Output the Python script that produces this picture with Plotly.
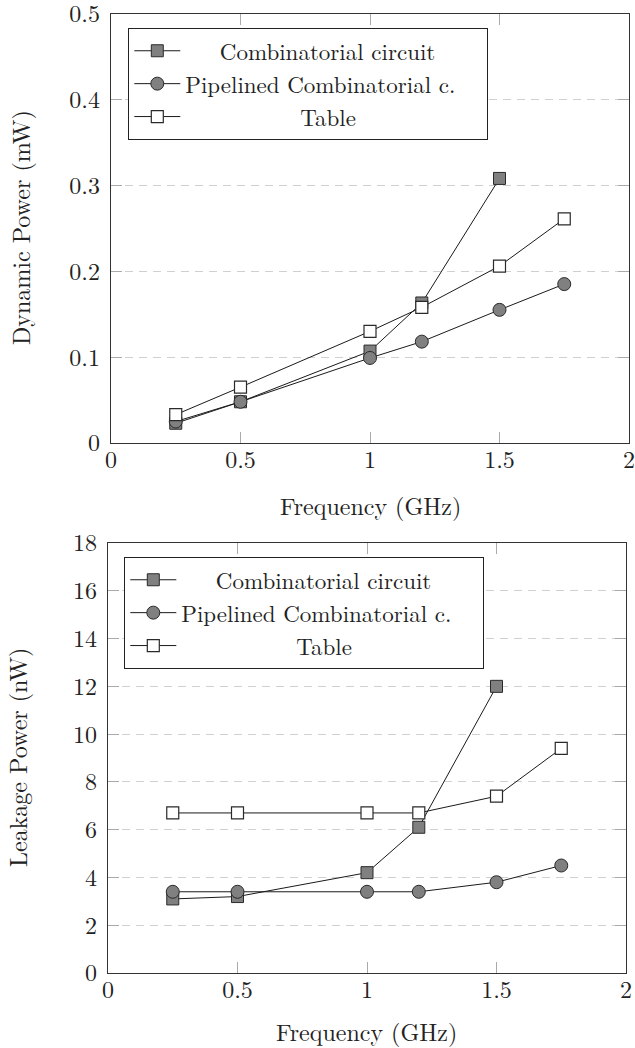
import plotly.graph_objects as go

# ---------------- data ----------------
freq_comb = [0.25, 0.5, 1.0, 1.2, 1.5]
freq_all = [0.25, 0.5, 1.0, 1.2, 1.5, 1.75]

dyn_comb = [0.023, 0.048, 0.107, 0.163, 0.308]
dyn_pipe = [0.025, 0.048, 0.099, 0.118, 0.155, 0.185]
dyn_table = [0.033, 0.065, 0.130, 0.158, 0.206, 0.261]

leak_comb = [3.1, 3.2, 4.2, 6.1, 12.0]
leak_pipe = [3.4, 3.4, 3.4, 3.4, 3.8, 4.5]
leak_table = [6.7, 6.7, 6.7, 6.7, 7.4, 9.4]

series_names = ["Combinatorial circuit", "Pipelined Combinatorial c.", "Table"]
x_ticks = [0, 0.5, 1, 1.5, 2]
x_tick_text = ["0", "0.5", "1", "1.5", "2"]
dyn_ticks = [0, 0.1, 0.2, 0.3, 0.4, 0.5]
dyn_tick_text = ["0", "0.1", "0.2", "0.3", "0.4", "0.5"]
leak_ticks = [0, 2, 4, 6, 8, 10, 12, 14, 16, 18]
leak_tick_text = [str(v) for v in leak_ticks]

# ---------------- styling ----------------
W, H = 635, 1048
FONT = "Latin Modern Roman, Liberation Serif, serif"
FS = 24
NB = "\u00a0"

def pad(name, left, right):
    return NB * left + name + NB * right

legend_labels = [pad(series_names[0], 3, 4), pad(series_names[1], 0, 2), pad(series_names[2], 10, 10)]

styles = [
    dict(symbol="square", size=12, color="#808080", line=dict(color="#2a2a2a", width=1)),
    dict(symbol="circle", size=13, color="#808080", line=dict(color="#2a2a2a", width=1)),
    dict(symbol="square", size=12, color="#ffffff", line=dict(color="#2a2a2a", width=1.2)),
]

fig = go.Figure()

def add_panel(xs_list, ys_list, xa, ya, legend):
    for i, (xs, ys) in enumerate(zip(xs_list, ys_list)):
        fig.add_trace(go.Scatter(
            x=xs, y=ys, mode="lines+markers", name=legend_labels[i],
            xaxis=xa, yaxis=ya, legend=legend,
            line=dict(color="#1a1a1a", width=1),
            marker=styles[i],
        ))

add_panel([freq_comb, freq_all, freq_all], [dyn_comb, dyn_pipe, dyn_table], "x", "y", "legend")
add_panel([freq_comb, freq_all, freq_all], [leak_comb, leak_pipe, leak_table], "x2", "y2", "legend2")

tfont = dict(family=FONT, size=FS, color="#222")
common_x = dict(range=[0, 2], tickvals=x_ticks, ticktext=x_tick_text, showgrid=False, zeroline=False,
                showline=True, linecolor="#333", linewidth=1.3, mirror="ticks", ticks="inside",
                ticklen=11, tickcolor="#aaaaaa", tickwidth=1, tickfont=tfont, ticklabelstandoff=-5,
                ticklabeloverflow="allow", automargin=False)
common_y = dict(showgrid=True, gridcolor="#d0d0d0", griddash="8px,6px", gridwidth=1, zeroline=False,
                showline=True, linecolor="#333", linewidth=1.3, mirror="ticks", ticks="inside",
                ticklen=11, tickcolor="#aaaaaa", tickwidth=1, tickfont=tfont, ticklabelstandoff=5,
                ticklabeloverflow="allow", automargin=False)

top_x = [111 / W, 629 / W]
top_y = [1 - 443 / H, 1 - 13.5 / H]
bot_x = [108 / W, 626 / W]
bot_y = [1 - 973 / H, 1 - 543 / H]

legend_style = dict(bgcolor="white", bordercolor="#222", borderwidth=1.3,
                    font=dict(family=FONT, size=23, color="#222"), itemwidth=46,
                    xanchor="left", yanchor="top", tracegroupgap=0)

def ann(text, x, y, angle=0):
    return dict(text=text, x=x / W, y=1 - y / H, xref="paper", yref="paper",
                xanchor="center", yanchor="middle", textangle=angle,
                showarrow=False, font=tfont)

fig.update_layout(
    template="none",
    width=W, height=H,
    margin=dict(l=0, r=0, t=0, b=0, autoexpand=False),
    paper_bgcolor="white", plot_bgcolor="white",
    font=tfont,
    xaxis=dict(domain=top_x, anchor="y", **common_x),
    yaxis=dict(domain=top_y, anchor="x", range=[0, 0.5], tickvals=dyn_ticks, ticktext=dyn_tick_text, **common_y),
    xaxis2=dict(domain=bot_x, anchor="y2", **common_x),
    yaxis2=dict(domain=bot_y, anchor="x2", range=[0, 18], tickvals=leak_ticks, ticktext=leak_tick_text, **common_y),
    legend=dict(x=128 / W, y=1 - 28 / H, **legend_style),
    legend2=dict(x=124 / W, y=1 - 557 / H, **legend_style),
    annotations=[
        ann("Dynamic Power (mW)", 20, 228, -90),
        ann("Leakage Power (nW)", 17, 758, -90),
        ann("Frequency (GHz)", 370, 505),
        ann("Frequency (GHz)", 367, 1031),
    ],
)

fig.write_html("out.html", config={"displayModeBar": False},
               post_script="document.body.style.margin='0';document.body.style.overflow='hidden';")
